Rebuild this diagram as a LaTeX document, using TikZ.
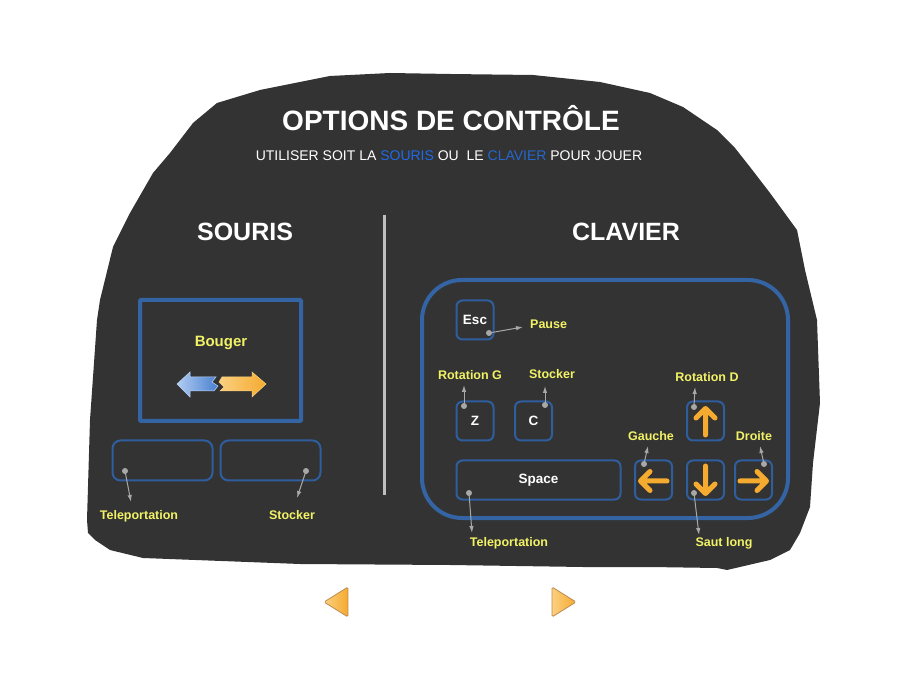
\documentclass[tikz,border=0pt]{standalone}
\usepackage{fontspec}
\setmainfont{Liberation Sans}
\usetikzlibrary{arrows.meta}
\definecolor{bg}{HTML}{333333}
\definecolor{keyblue}{HTML}{2F5E9E}
\definecolor{boxblue}{HTML}{3464A4}
\definecolor{lbl}{HTML}{F2F266}
\definecolor{conn}{HTML}{A8A8A8}
\definecolor{subblue}{HTML}{1E6AE6}
\definecolor{subblue2}{HTML}{2468CC}
\definecolor{orng}{HTML}{F5AA30}
\definecolor{orngl}{HTML}{FAD080}
\definecolor{bluel}{HTML}{B0CCF2}
\definecolor{blued}{HTML}{4A80D0}
\definecolor{divgray}{HTML}{BEBEBE}
\tikzset{
  keybox/.style={draw=keyblue, line width=2pt, rounded corners=6pt, minimum width=37pt, minimum height=39pt, inner sep=0pt, text=white, font=\bfseries\fontsize{13.5}{14}\selectfont},
  lab/.style={text=lbl, font=\bfseries\fontsize{12.5}{13}\selectfont, inner sep=0pt},
  head/.style={text=white, font=\bfseries\fontsize{25}{26}\selectfont, inner sep=0pt},
  link/.style={draw=conn, line width=1pt, -{Latex[length=7pt,width=4.5pt]}},
  keyarrow/.style={draw=orng, line width=5pt, line cap=round, line join=round},
  navtri/.style={draw={rgb,255:red,190;green,140;blue,80}, line width=0.8pt, rounded corners=1.5pt, left color=orngl, right color=orng}
}
\begin{document}
\begin{tikzpicture}[x=1pt,y=-1pt]
\useasboundingbox (0,0) rectangle (900,700);
\fill[white] (0,0) rectangle (900,700);
% blob
\fill[bg] (330,76) -- (390,73) -- (450,74) -- (533,75) -- (600,82) -- (650,93) -- (683,107) -- (717,130) -- (735,148) -- (750,167) -- (770,193) -- (797,230) -- (805,270) -- (817,320) -- (820,403) -- (813,463) -- (810,507) -- (800,533) -- (790,550) -- (770,560) -- (727,570) -- (717,568) -- (650,567) -- (583,567) -- (450,565) -- (300,564) -- (143,558) -- (110,550) -- (95,540) -- (88,533) -- (87,520) -- (90,420) -- (97,320) -- (100,300) -- (113,247) -- (130,213) -- (153,173) -- (170,153) -- (193,123) -- (217,103) -- (260,90) -- cycle;

% titles
\node[text=white, font=\bfseries\fontsize{28}{30}\selectfont, inner sep=0pt] (title) at (451,118) {OPTIONS DE CONTRÔLE};
\node[text=white, font=\fontsize{14}{15}\selectfont, inner sep=0pt] (sub) at (449,156) {UTILISER SOIT LA \textcolor{subblue}{SOURIS} OU\ \ LE \textcolor{subblue2}{CLAVIER} POUR JOUER};
\node[head] (souris) at (245,232) {SOURIS};
\node[head] (clavier) at (626,232) {CLAVIER};
\draw[divgray, line width=3pt] (384,215) -- (384,495);

% mouse
\draw[boxblue, line width=4pt, rounded corners=1pt] (140,300) rectangle (301,421);
\node[lab, font=\bfseries\fontsize{15}{16}\selectfont] (bouger) at (221,343) {Bouger};
\shade[left color=bluel, right color=blued, draw=bluel!80!white, line width=0.5pt]
  (177,384) -- (190,372) -- (190,377) -- (216,377) -- (212,382) -- (218,386) -- (214,391) -- (190,391) -- (190,397) -- cycle;
\shade[left color=orngl, right color=orng, draw=orngl, line width=0.5pt]
  (222,377) -- (252,377) -- (252,372) -- (266,384) -- (252,397) -- (252,391) -- (220,391) -- (224,387) -- (219,382) -- cycle;
\node[draw=keyblue, line width=2pt, rounded corners=8pt, minimum width=100pt, minimum height=40pt] (lbtn) at (162.5,460.5) {};
\node[draw=keyblue, line width=2pt, rounded corners=8pt, minimum width=100pt, minimum height=40pt] (rbtn) at (270.5,460.5) {};
\node[lab] (tele1) at (139,516) {Teleportation};
\node[lab] (stock1) at (292,515) {Stocker};
\coordinate (d1) at (125,471); \coordinate (e1) at (131,502);
\coordinate (d2) at (306,471); \coordinate (e2) at (297,498);

% keyboard
\draw[boxblue, line width=4pt, rounded corners=40pt] (422,280) rectangle (788,518);
\node[keybox] (esc) at (475,320) {Esc};
\node[keybox] (z) at (475,421) {Z};
\node[keybox] (c) at (533.5,421) {C};
\node[keybox] (up) at (705.5,421) {};
\node[keybox, minimum width=164pt] (space) at (538.5,480) {Space};
\node[keybox] (left) at (653.5,480) {};
\node[keybox] (down) at (705.5,480) {};
\node[keybox] (right) at (753.5,480) {};
% key arrows
\draw[keyarrow] (705.5,435) -- (705.5,409) (696,418) -- (705.5,408.5) -- (715,418);
\draw[keyarrow] (667,481) -- (641,481) (650,471.5) -- (640.5,481) -- (650,490.5);
\draw[keyarrow] (705.5,466) -- (705.5,493) (696,484) -- (705.5,493.5) -- (715,484);
\draw[keyarrow] (740,481) -- (766,481) (757,471.5) -- (766.5,481) -- (757,490.5);

% labels
\node[lab, anchor=west] (pause) at (530,324) {Pause};
\node[lab] (rotg) at (470,375) {Rotation G};
\node[lab] (stock2) at (552,374) {Stocker};
\node[lab] (rotd) at (707,377) {Rotation D};
\node[lab] (gauche) at (651,436) {Gauche};
\node[lab] (droite) at (754,436) {Droite};
\node[lab] (tele2) at (509,543) {Teleportation};
\node[lab] (saut) at (724,543) {Saut long};

\coordinate (d3) at (489,333); \coordinate (e3) at (523,327);
\coordinate (d4) at (464,406); \coordinate (e4) at (464,385);
\coordinate (d5) at (545,405); \coordinate (e5) at (545,386);
\coordinate (d6) at (694,407); \coordinate (e6) at (695,387);
\coordinate (d7) at (469,493); \coordinate (e7) at (472,533);
\coordinate (d8) at (644,464); \coordinate (e8) at (648,446);
\coordinate (d9) at (694,493); \coordinate (e9) at (699,535);
\coordinate (d10) at (764,464); \coordinate (e10) at (760,446);

\foreach \i in {1,...,10} {
  \draw[link] (d\i) -- (e\i);
  \fill[conn] (d\i) circle (3pt);
}

% navigation
\path[navtri] (324,602) -- (348,587) -- (348,617) -- cycle;
\path[navtri] (552,587) -- (576,602) -- (552,617) -- cycle;
\end{tikzpicture}
\end{document}
